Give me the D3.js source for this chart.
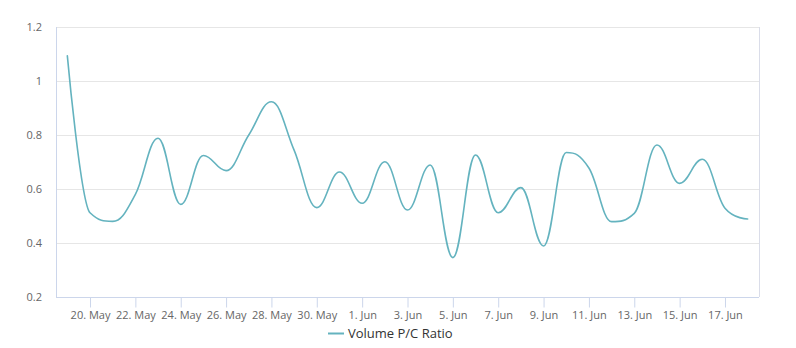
<!DOCTYPE html>
<html>
<head>
<meta charset="utf-8">
<script src="https://cdn.jsdelivr.net/npm/d3@7"></script>
<style>
  html, body { margin: 0; padding: 0; background: #fff; }
  svg { display: block; font-family: "Open Sans", "DejaVu Sans", sans-serif; }
</style>
</head>
<body>
<svg id="chart" width="796" height="348"></svg>
<script>
// ---- data ----
const dates = [
  "2023-05-19","2023-05-20","2023-05-21","2023-05-22","2023-05-23","2023-05-24",
  "2023-05-25","2023-05-26","2023-05-27","2023-05-28","2023-05-29","2023-05-30",
  "2023-05-31","2023-06-01","2023-06-02","2023-06-03","2023-06-04","2023-06-05",
  "2023-06-06","2023-06-07","2023-06-08","2023-06-09","2023-06-10","2023-06-11",
  "2023-06-12","2023-06-13","2023-06-14","2023-06-15","2023-06-16","2023-06-17",
  "2023-06-18"
];
const ratioValues = [
  1.093, 0.512, 0.480, 0.580, 0.788, 0.543,
  0.724, 0.668, 0.800, 0.923, 0.744, 0.531,
  0.663, 0.547, 0.701, 0.522, 0.689, 0.346,
  0.726, 0.512, 0.605, 0.389, 0.735, 0.678,
  0.479, 0.510, 0.763, 0.621, 0.710, 0.529,
  0.489
];
const seriesName = "Volume P/C Ratio";
const xTickDates = [
  "2023-05-20","2023-05-22","2023-05-24","2023-05-26","2023-05-28","2023-05-30",
  "2023-06-01","2023-06-03","2023-06-05","2023-06-07","2023-06-09","2023-06-11",
  "2023-06-13","2023-06-15","2023-06-17"
];
const yTicks = [0.2, 0.4, 0.6, 0.8, 1, 1.2];

// ---- layout ----
const plot = { left: 56, right: 759, top: 27, bottom: 297 };
const lineColor = "#64b3bf";
const parse = d3.timeParse("%Y-%m-%d");
const data = dates.map((d, i) => ({ date: parse(d), value: ratioValues[i] }));

const x = d3.scaleTime()
  .domain([d3.timeHour.offset(parse(dates[0]), -12), d3.timeHour.offset(parse(dates[dates.length - 1]), 12)])
  .range([plot.left, plot.right]);
const y = d3.scaleLinear().domain([0.2, 1.2]).range([plot.bottom, plot.top]);

const svg = d3.select("#chart");

// gridlines
svg.append("g").selectAll("line")
  .data(yTicks.filter(t => t !== 0.2))
  .join("line")
  .attr("x1", plot.left).attr("x2", plot.right)
  .attr("y1", d => Math.round(y(d)) + 0.5).attr("y2", d => Math.round(y(d)) + 0.5)
  .attr("stroke", "#e6e6e6").attr("stroke-width", 1);

// y labels
svg.append("g").selectAll("text")
  .data(yTicks)
  .join("text")
  .attr("x", 42).attr("y", d => y(d))
  .attr("dy", "0.35em")
  .attr("text-anchor", "end")
  .attr("font-size", 11)
  .attr("fill", "#666")
  .text(d => d3.format("~g")(d));

// x axis
const xAxis = d3.axisBottom(x)
  .tickValues(xTickDates.map(parse))
  .tickFormat(d3.timeFormat("%-d. %b"))
  .tickSize(10)
  .tickSizeOuter(0);
const gx = svg.append("g")
  .attr("transform", `translate(0,${plot.bottom + 0.5})`)
  .call(xAxis);
gx.select(".domain").attr("stroke", "#ccd6eb").attr("d", `M${plot.left},0H${plot.right}`);
gx.selectAll(".tick line").attr("stroke", "#ccd6eb");
gx.selectAll(".tick text")
  .attr("fill", "#666").attr("font-size", 11)
  .attr("font-family", "\"Open Sans\", sans-serif")
  .attr("y", 14);

// left axis line and right border
svg.append("line")
  .attr("x1", plot.left + 0.5).attr("x2", plot.left + 0.5)
  .attr("y1", plot.top).attr("y2", plot.bottom)
  .attr("stroke", "#ccd6eb");
svg.append("line")
  .attr("x1", plot.right + 0.5).attr("x2", plot.right + 0.5)
  .attr("y1", plot.top).attr("y2", plot.bottom)
  .attr("stroke", "#dadde9");

// Highcharts-like spline curve
function HCSpline(context) { this._context = context; }
HCSpline.prototype = {
  areaStart() {}, areaEnd() {},
  lineStart() { this._pts = []; },
  point(px, py) { this._pts.push([+px, +py]); },
  lineEnd() {
    const p = this._pts, ctx = this._context, s = 1.5, den = 2.5;
    const rc = [];
    for (let i = 0; i < p.length; i++) {
      const [px, py] = p[i];
      let lcx = px, lcy = py, rcx = px, rcy = py;
      if (i > 0 && i < p.length - 1) {
        const [lx, ly] = p[i - 1], [nx, ny] = p[i + 1];
        lcx = (s * px + lx) / den; lcy = (s * py + ly) / den;
        rcx = (s * px + nx) / den; rcy = (s * py + ny) / den;
        let corr = 0;
        if (rcx !== lcx) corr = ((rcy - lcy) * (rcx - px)) / (rcx - lcx) + py - rcy;
        lcy += corr; rcy += corr;
        if (lcy > ly && lcy > py) { lcy = Math.max(ly, py); rcy = 2 * py - lcy; }
        else if (lcy < ly && lcy < py) { lcy = Math.min(ly, py); rcy = 2 * py - lcy; }
        if (rcy > ny && rcy > py) { rcy = Math.max(ny, py); lcy = 2 * py - rcy; }
        else if (rcy < ny && rcy < py) { rcy = Math.min(ny, py); lcy = 2 * py - rcy; }
      }
      rc.push({ lcx, lcy, rcx, rcy });
      if (i === 0) ctx.moveTo(px, py);
      else ctx.bezierCurveTo(rc[i - 1].rcx, rc[i - 1].rcy, lcx, lcy, px, py);
    }
  }
};
const hcSpline = ctx => new HCSpline(ctx);

const line = d3.line()
  .x(d => x(d.date))
  .y(d => y(d.value))
  .curve(hcSpline);

svg.append("path")
  .datum(data)
  .attr("d", line)
  .attr("fill", "none")
  .attr("stroke", lineColor)
  .attr("stroke-width", 1.6)
  .attr("stroke-linejoin", "round")
  .attr("stroke-linecap", "round");

// legend
const lg = svg.append("g").attr("transform", "translate(328,333)");
lg.append("line").attr("x1", 0).attr("x2", 16).attr("y1", 0.5).attr("y2", 0.5)
  .attr("stroke", lineColor).attr("stroke-width", 2);
lg.append("text").attr("x", 20).attr("y", 0).attr("dy", "0.35em")
  .attr("font-size", 13).attr("fill", "#333")
  .text(seriesName);
</script>
</body>
</html>
